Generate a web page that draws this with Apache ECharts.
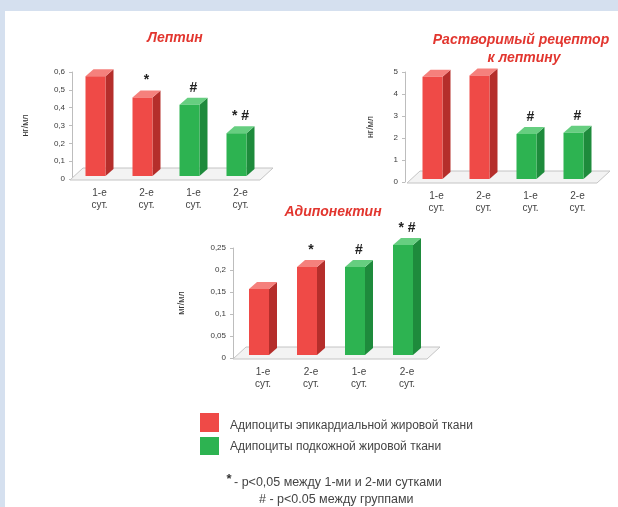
<!DOCTYPE html>
<html>
<head>
<meta charset="utf-8">
<script src="https://cdn.jsdelivr.net/npm/echarts@6/dist/echarts.min.js"></script>
<style>
  html, body { margin: 0; padding: 0; }
  body { width: 618px; height: 507px; background: #D5E0EF; position: relative; overflow: hidden; }
  #panel { position: absolute; left: 5px; top: 11px; width: 613px; height: 496px; background: #ffffff; }
  #chart { position: absolute; left: 0; top: 0; width: 618px; height: 507px; }
</style>
</head>
<body>
<div id="panel"></div>
<div id="chart"></div>
<script>
// Day labels shared by all three panels
const categories = ['1-е\nсут.', '2-е\nсут.', '1-е\nсут.', '2-е\nсут.'];
// Tissue group of each column (0 = epicardial, 1 = subcutaneous)
const groupOf = [0, 0, 1, 1];

// Leptin, ng/ml
const leptin = [0.56, 0.44, 0.40, 0.24];
const leptinMarks = ['', '*', '#', '* #'];
const leptinTicks = [0, 0.6, 0.1];

// Soluble leptin receptor, ng/ml
const receptor = [4.65, 4.7, 2.05, 2.1];
const receptorMarks = ['', '', '#', '#'];
const receptorTicks = [0, 5, 1];

// Adiponectin, mg/ml
const adiponectin = [0.15, 0.2, 0.2, 0.25];
const adiponectinMarks = ['', '*', '#', '* #'];
const adiponectinTicks = [0, 0.25, 0.05];

const legendNames = ['Адипоциты эпикардиальной жировой ткани', 'Адипоциты подкожной жировой ткани'];
const footnotes = ['- p<0,05 между 1-ми и 2-ми сутками', '# - p<0.05 между группами'];

// Face colours for the 3D columns: front, top, side
const palette = [
  { front: '#EF4A47', top: '#F5807C', side: '#B52E2B' },
  { front: '#2DB351', top: '#66CE80', side: '#1E8B3C' }
];
const titleColor = '#E2362F';
const tickColor = '#3a3a3a';
const FONT = 'Arial, "Liberation Sans", sans-serif';

const DX = 8, DY = 7;       // depth offset of a column
const LIFT = 3;             // columns stand slightly behind the floor front edge
const HALF = 10;            // half width of a column front face

function columnRenderer(marks) {
  return function (params, api) {
    const i = api.value(0);
    const v = api.value(1);
    const top = api.coord([i, v]);
    const base = api.coord([i, 0]);
    const cx = top[0] - 4;
    const x0 = cx - HALF, x1 = cx + HALF;
    const yT = top[1] - LIFT, yB = base[1] - LIFT;
    const c = palette[groupOf[params.dataIndex]];
    const children = [
      { type: 'polygon', shape: { points: [[x1, yT], [x1 + DX, yT - DY], [x1 + DX, yB - DY], [x1, yB]] },
        style: { fill: c.side } },
      { type: 'polygon', shape: { points: [[x0, yT], [x1, yT], [x1 + DX, yT - DY], [x0 + DX, yT - DY]] },
        style: { fill: c.top } },
      { type: 'rect', shape: { x: x0, y: yT, width: x1 - x0, height: yB - yT },
        style: { fill: c.front } }
    ];
    const m = marks[params.dataIndex];
    if (m) {
      children.push({ type: 'text', style: { text: m, x: top[0], y: yT - 17, align: 'center', verticalAlign: 'middle',
        fill: '#222', font: 'bold 14px ' + FONT } });
    }
    return { type: 'group', children: children };
  };
}

function floorRenderer(params) {
  const cs = params.coordSys;
  const l = cs.x, r = cs.x + cs.width, y = cs.y + cs.height + 1;
  return {
    type: 'polygon',
    shape: { points: [[l - 6, y], [l + 7, y - 12], [r + 9, y - 12], [r - 4, y]] },
    style: { fill: '#F3F3F3', stroke: '#C4C4C4', lineWidth: 1 }
  };
}

function fmt(v) {
  return String(Math.round(v * 100) / 100).replace('.', ',');
}

const grids = [
  { left: 76, top: 72, width: 188, height: 107 },
  { left: 413, top: 72, width: 188, height: 110 },
  { left: 239, top: 248, width: 192, height: 110 }
];
const panels = [
  { values: leptin, marks: leptinMarks, ticks: leptinTicks, unit: 'нг/мл', offset: 4, nameGap: 42 },
  { values: receptor, marks: receptorMarks, ticks: receptorTicks, unit: 'нг/мл', offset: 8, nameGap: 30 },
  { values: adiponectin, marks: adiponectinMarks, ticks: adiponectinTicks, unit: 'мг/мл', offset: 6, nameGap: 47 }
];

const xAxes = [], yAxes = [], series = [];
panels.forEach(function (p, k) {
  xAxes.push({
    type: 'category', gridIndex: k, data: categories,
    axisLine: { show: false }, axisTick: { show: false },
    axisLabel: { color: '#444', fontSize: 10, lineHeight: 12, margin: 8, fontFamily: FONT }
  });
  yAxes.push({
    type: 'value', gridIndex: k, min: p.ticks[0], max: p.ticks[1], interval: p.ticks[2],
    offset: p.offset,
    name: p.unit, nameLocation: 'middle', nameGap: p.nameGap,
    nameTextStyle: { color: '#333', fontSize: 9, fontFamily: FONT },
    axisLine: { show: true, lineStyle: { color: '#BDBDBD' } },
    axisTick: { show: true, length: 3, lineStyle: { color: '#BDBDBD' } },
    splitLine: { show: false },
    axisLabel: { color: tickColor, fontSize: 8, margin: 7, formatter: fmt, fontFamily: FONT }
  });
  series.push({
    type: 'custom', xAxisIndex: k, yAxisIndex: k, z: 1, silent: true,
    renderItem: floorRenderer, data: [[0, 0]]
  });
  series.push({
    type: 'custom', xAxisIndex: k, yAxisIndex: k, z: 3, clip: false,
    renderItem: columnRenderer(p.marks),
    data: p.values.map(function (v, i) { return [i, v]; })
  });
});

const titleFont = 'italic bold 14px ' + FONT;
const legendFont = '12px ' + FONT;
const noteFont = '12.5px ' + FONT;

const chart = echarts.init(document.getElementById('chart'), null, { renderer: 'canvas' });
chart.setOption({
  backgroundColor: 'transparent',
  animation: false,
  grid: grids,
  xAxis: xAxes,
  yAxis: yAxes,
  series: series,
  graphic: [
    { type: 'text', style: { text: 'Лептин', x: 175, y: 38, align: 'center', verticalAlign: 'middle', fill: titleColor, font: titleFont } },
    { type: 'text', style: { text: 'Растворимый рецептор', x: 521, y: 40, align: 'center', verticalAlign: 'middle', fill: titleColor, font: titleFont } },
    { type: 'text', style: { text: 'к лептину', x: 524, y: 58, align: 'center', verticalAlign: 'middle', fill: titleColor, font: titleFont } },
    { type: 'text', style: { text: 'Адипонектин', x: 333, y: 212, align: 'center', verticalAlign: 'middle', fill: titleColor, font: titleFont } },
    { type: 'rect', shape: { x: 200, y: 413, width: 19, height: 19 }, style: { fill: palette[0].front } },
    { type: 'rect', shape: { x: 200, y: 437, width: 19, height: 18 }, style: { fill: palette[1].front } },
    { type: 'text', style: { text: legendNames[0], x: 230, y: 426, verticalAlign: 'middle', fill: '#444', font: legendFont } },
    { type: 'text', style: { text: legendNames[1], x: 230, y: 447, verticalAlign: 'middle', fill: '#444', font: legendFont } },
    { type: 'text', style: { text: '*', x: 229, y: 479, align: 'center', verticalAlign: 'middle', fill: '#333', font: 'bold 13px ' + FONT } },
    { type: 'text', style: { text: footnotes[0], x: 234, y: 483, verticalAlign: 'middle', fill: '#444', font: noteFont } },
    { type: 'text', style: { text: footnotes[1], x: 259, y: 500, verticalAlign: 'middle', fill: '#444', font: noteFont } }
  ]
});
</script>
</body>
</html>
